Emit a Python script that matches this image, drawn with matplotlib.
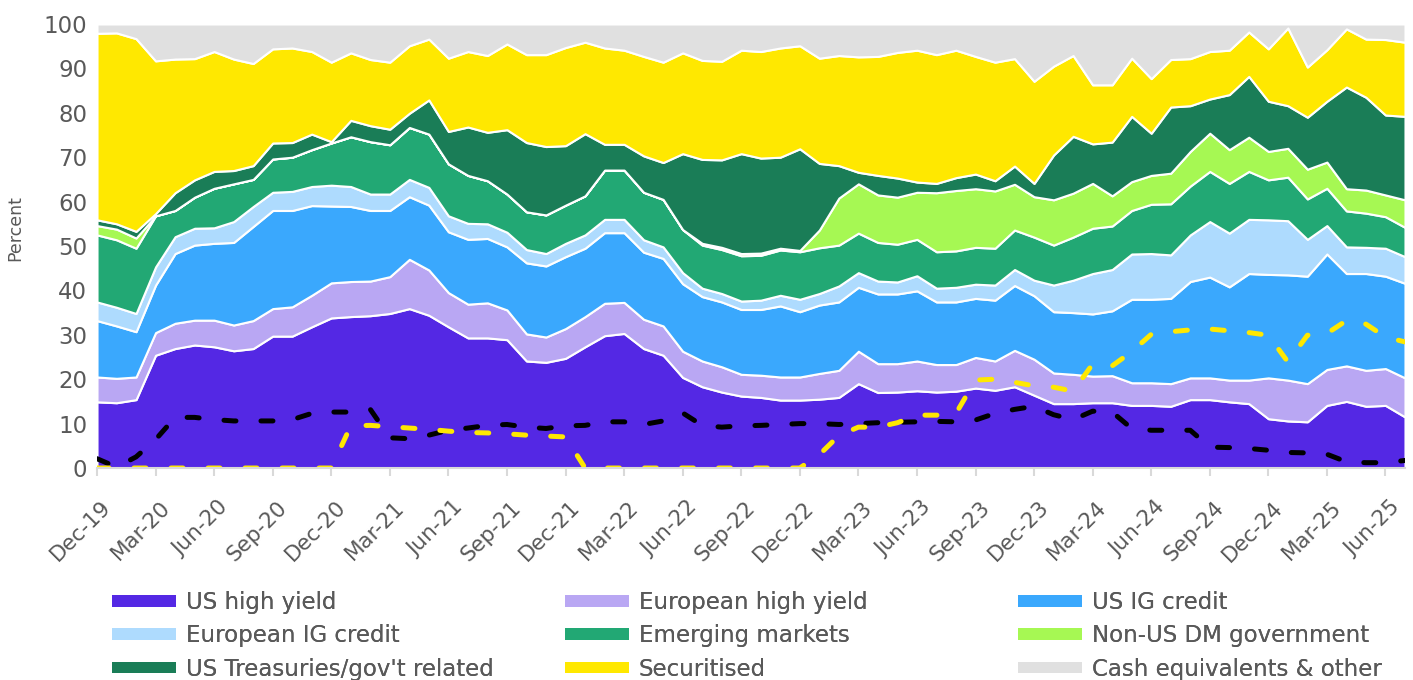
import matplotlib
matplotlib.use("Agg")
import matplotlib.pyplot as plt
import matplotlib.patches as mpatches
from matplotlib.transforms import ScaledTranslation
import numpy as np

# ---------------- data (monthly, Dec-19 .. Jul-25) ----------------
us_high_yield = [14.9,14.7,15.4,25.4,26.9,27.7,27.3,26.4,26.9,29.7,29.7,31.8,33.8,34.1,34.3,34.8,35.9,34.4,31.8,29.3,
                 29.3,28.9,24.1,23.8,24.7,27.3,29.8,30.3,26.9,25.4,20.4,18.3,17.1,16.2,15.9,15.3,15.3,15.5,15.9,19.0,
                 17.0,17.1,17.4,17.1,17.3,18.0,17.5,18.3,16.4,14.5,14.5,14.7,14.7,14.1,14.1,13.9,15.4,15.4,14.9,14.5,
                 11.1,10.6,10.4,14.1,15.0,13.9,14.1,11.5]
european_high_yield = [5.6,5.5,5.1,5.1,5.7,5.6,6.0,5.8,6.3,6.2,6.6,7.1,7.9,7.9,7.8,8.3,11.1,10.2,7.7,7.6,
                       7.9,6.7,6.1,5.7,6.7,6.8,7.3,7.0,6.6,6.6,5.9,5.8,5.7,4.9,5.0,5.2,5.2,5.8,6.1,7.3,
                       6.5,6.4,6.7,6.2,6.0,6.9,6.6,8.2,8.1,6.9,6.6,6.0,6.1,5.1,5.1,5.1,4.9,4.9,4.9,5.3,
                       9.2,9.2,8.6,8.1,8.0,8.1,8.3,8.8]
us_ig_credit = [12.7,11.8,10.2,10.7,15.7,16.9,17.3,18.6,21.2,22.1,21.7,20.2,17.3,16.9,15.9,14.9,14.1,14.6,13.7,14.6,
                14.5,14.2,16.0,16.0,16.2,15.4,15.9,15.7,15.1,15.2,15.2,14.5,14.6,14.6,14.8,16.0,14.7,15.4,15.4,14.4,
                15.7,15.7,15.8,14.1,14.1,13.3,13.7,14.6,14.3,13.8,13.9,14.0,14.6,18.8,18.8,19.2,21.7,22.7,21.0,24.0,
                23.3,23.7,24.2,26.0,20.8,21.8,20.8,21.3]
european_ig_credit = [4.2,4.2,4.1,4.1,3.8,3.8,3.5,4.7,4.5,4.1,4.3,4.3,4.7,4.5,3.7,3.7,3.9,4.0,3.6,3.6,
                      3.3,3.3,3.0,2.8,3.0,3.0,3.0,3.0,2.8,2.6,2.5,1.9,1.9,1.9,2.1,2.4,2.8,2.6,3.6,3.3,
                      2.9,2.7,3.4,3.1,3.3,3.2,3.4,3.6,3.5,6.0,7.3,9.1,9.3,10.2,10.3,9.8,10.5,12.5,12.1,12.2,
                      12.3,12.2,8.3,6.4,6.0,5.9,6.3,6.0]
emerging_markets = [15.1,15.2,14.7,11.5,5.9,7.0,8.9,8.5,6.1,7.5,7.7,8.3,9.5,11.2,11.8,11.1,11.7,12.0,11.7,10.8,
                    9.7,8.6,8.5,8.7,8.6,8.8,11.1,11.1,10.7,10.7,9.7,9.7,9.9,10.2,10.1,10.2,10.7,10.3,9.2,8.9,
                    8.7,8.5,8.2,8.2,8.2,8.3,8.3,8.9,9.7,9.0,9.7,10.2,9.8,9.8,11.1,11.5,11.0,11.3,11.2,10.8,
                    9.0,9.8,9.1,8.4,8.1,7.7,7.1,6.6]
non_us_dm_government = [2.1,2.4,2.3,0,0,0,0,0,0,0,0,0,0,0,0,0,0,0,0,0,
                        0,0,0,0,0,0,0,0,0,0,0,0.4,0.5,0.5,0.5,0.4,0.3,4.0,10.6,11.1,
                        10.7,10.6,10.6,13.3,13.6,13.2,12.9,10.3,9.1,10.2,9.9,10.1,6.8,6.5,6.5,6.9,7.8,8.6,7.6,7.7,
                        6.4,6.5,6.7,5.9,5.0,5.2,4.9,6.2]
us_treasuries = [1.3,1.2,1.5,0.5,4.0,3.9,3.8,3.0,3.1,3.6,3.3,3.5,0.3,3.7,3.6,3.5,3.2,7.7,7.3,10.9,
                 10.9,14.5,15.6,15.4,13.4,14.0,5.8,5.8,8.2,8.3,17.1,18.9,19.7,22.5,21.4,20.5,22.9,15.0,7.3,2.6,
                 4.4,4.3,2.3,2.1,2.9,3.3,2.3,4.1,3.0,10.1,12.8,8.9,12.1,14.7,9.5,14.9,10.3,7.7,12.4,13.7,
                 11.3,9.6,11.7,13.7,22.9,20.9,18.0,18.8]
securitised = [42.0,43.0,43.4,34.4,30.1,27.3,27.0,25.1,23.0,21.2,21.3,18.6,17.9,15.2,14.9,15.1,15.2,13.7,16.5,17.0,
               17.3,19.3,19.8,20.7,22.1,20.6,21.7,21.2,22.4,22.6,22.7,22.3,22.2,23.3,24.0,24.6,23.2,23.7,24.8,26.0,
               26.8,28.3,29.7,29.0,28.7,26.5,26.7,24.2,23.0,20.0,18.2,13.3,12.9,13.1,12.3,10.7,10.6,10.7,10.0,10.0,
               11.8,17.5,11.3,11.6,13.1,13.1,17.0,16.7]
cash_equivalents = [2.1,2.0,3.3,8.3,7.9,7.8,6.2,7.9,8.9,5.6,5.4,6.2,8.6,6.5,8.0,8.6,4.9,3.4,7.7,6.2,
                    7.1,4.5,6.9,6.9,5.3,4.1,5.4,5.9,7.3,8.6,6.5,8.2,8.4,5.9,6.2,5.4,4.9,7.7,7.1,7.4,
                    7.3,6.4,5.9,6.9,5.9,7.3,8.6,7.8,12.9,9.5,7.1,13.7,13.7,7.7,12.3,8.0,7.8,6.2,5.9,1.8,
                    5.6,0.9,9.7,5.8,1.1,3.4,3.5,4.1]
black_dashed = [2.1,0.2,2.5,6.4,11.4,11.4,10.9,10.6,10.6,10.6,10.9,12.3,12.6,12.6,13.2,6.8,6.6,7.4,8.5,9.0,
                9.6,9.8,9.2,8.9,9.5,9.6,10.4,10.4,9.8,10.6,12.4,9.6,9.2,9.5,9.6,9.8,10.0,10.0,9.8,10.0,
                10.2,10.3,10.4,10.5,10.4,10.8,12.3,13.2,13.9,12.0,10.9,12.8,12.6,8.9,8.5,8.5,8.5,4.7,4.6,4.4,
                4.0,3.5,3.4,3.1,1.4,1.2,1.2,1.7]
yellow_dashed = [0,0,0,0,0,0,0,0,0,0,0,0,0,9.5,9.6,9.3,9.0,8.7,8.3,8.0,
                 7.9,7.7,7.4,7.2,7.0,0,0,0,0,0,0,0,0,0,0,0,0,3.0,7.3,9.2,
                 9.2,10.2,11.9,11.9,12.3,19.8,20.0,19.3,18.5,18.2,17.3,23.4,23.0,26.2,30.1,30.7,31.1,31.3,30.9,30.5,
                 29.9,23.9,29.9,30.3,33.2,32.4,29.5,28.4]

series_names = ["US high yield", "European high yield", "US IG credit", "European IG credit",
                "Emerging markets", "Non-US DM government", "US Treasuries/gov't related",
                "Securitised", "Cash equivalents & other"]
tick_labels = ["Dec-19", "Mar-20", "Jun-20", "Sep-20", "Dec-20", "Mar-21", "Jun-21", "Sep-21",
               "Dec-21", "Mar-22", "Jun-22", "Sep-22", "Dec-22", "Mar-23", "Jun-23", "Sep-23",
               "Dec-23", "Mar-24", "Jun-24", "Sep-24", "Dec-24", "Mar-25", "Jun-25"]

colors = ["#5428E4", "#B9A7F3", "#3AA8FD", "#AEDBFE", "#22A874",
          "#A6F853", "#1A7D57", "#FFE800", "#E0E0E0"]
text_color = "#595959"

# ---------------- figure ----------------
plt.rcParams["font.family"] = ["DejaVu Sans"]
fig = plt.figure(figsize=(14.13, 6.80), dpi=100)
ax = fig.add_axes([97 / 1413, 1 - 468 / 680, (1405 - 97) / 1413, (468 - 24) / 680])

x = np.arange(len(us_high_yield))
stack = [us_high_yield, european_high_yield, us_ig_credit, european_ig_credit, emerging_markets,
         non_us_dm_government, us_treasuries, securitised, cash_equivalents]
ax.stackplot(x, *stack, colors=colors, edgecolor="white", linewidth=1.5)

ax.plot(x, black_dashed, color="black", lw=3.6, dashes=(2.4, 5.0),
        dash_capstyle="round", zorder=5)
ax.plot(x, yellow_dashed, color="#FFE800", lw=3.6, dashes=(2.4, 5.0),
        dash_capstyle="round", zorder=5)

ax.set_xlim(0, len(x) - 1)
ax.set_ylim(0, 100)

ax.set_yticks(np.arange(0, 101, 10))
ax.tick_params(axis="y", length=0, pad=7, labelsize=16.5, labelcolor=text_color)
ax.set_xticks(np.arange(0, len(x), 3))
ax.set_xticklabels(tick_labels)
ax.tick_params(axis="x", length=6, width=1.5, color="#D9D9D9", pad=15,
               labelsize=15.5, labelcolor=text_color)
for lab in ax.get_xticklabels():
    lab.set_rotation(45)
    lab.set_ha("right")
    lab.set_va("top")
    lab.set_rotation_mode("anchor")
    lab.set_transform(lab.get_transform() + ScaledTranslation(4 / 100, 0, fig.dpi_scale_trans))

for s in ["top", "right", "left"]:
    ax.spines[s].set_visible(False)
ax.spines["bottom"].set_color("#D9D9D9")
ax.spines["bottom"].set_linewidth(1.5)
ax.spines["bottom"].set_zorder(6)

ax.set_ylabel("Percent", fontsize=12.5, color=text_color)
ax.yaxis.set_label_coords(-0.056, 0.54)

# ---------------- legend (3 columns, row-major order) ----------------
handles = [mpatches.Patch(facecolor=c, edgecolor="none") for c in colors]
col_x = [112 / 1413, 565 / 1413, 1018 / 1413]
for ci in range(3):
    idx = [ci, ci + 3, ci + 6]
    leg = fig.legend([handles[i] for i in idx], [series_names[i] for i in idx],
                     loc="upper left", bbox_to_anchor=(col_x[ci], 1 - 591 / 680),
                     frameon=False, fontsize=16.5, labelcolor=text_color,
                     borderpad=0, borderaxespad=0, handlelength=2.78, handleheight=0.4,
                     handletextpad=0.43, labelspacing=0.45)
    fig.add_artist(leg)

fig.savefig("out.png", dpi=100)
